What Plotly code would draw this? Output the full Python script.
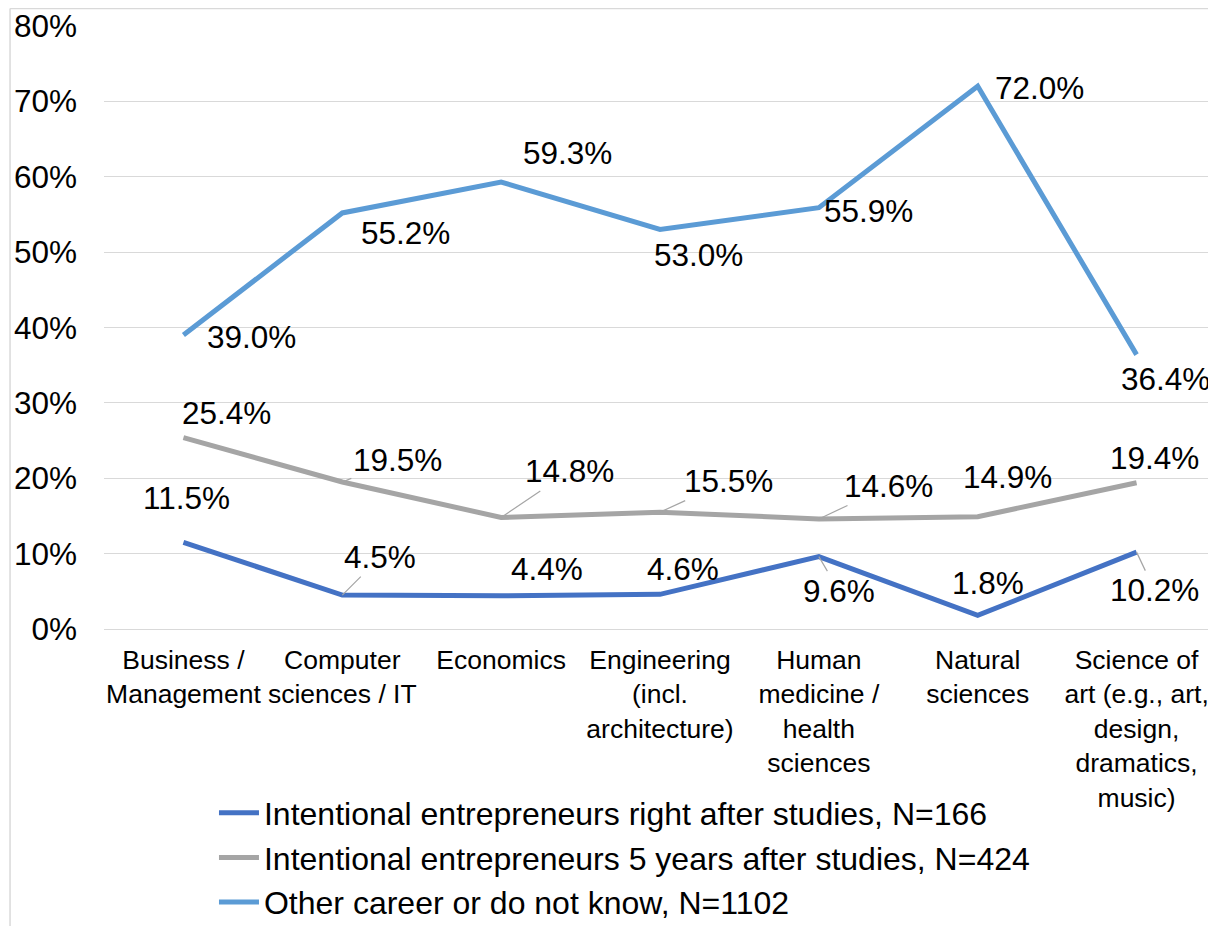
import plotly.graph_objects as go

categories = ["Business /<br>Management", "Computer<br>sciences / IT", "Economics",
              "Engineering<br>(incl.<br>architecture)", "Human<br>medicine /<br>health<br>sciences",
              "Natural<br>sciences", "Science of<br>art (e.g., art,<br>design,<br>dramatics,<br>music)"]
right_after = [11.5, 4.5, 4.4, 4.6, 9.6, 1.8, 10.2]
five_years = [25.4, 19.5, 14.8, 15.5, 14.6, 14.9, 19.4]
other = [39.0, 55.2, 59.3, 53.0, 55.9, 72.0, 36.4]
names = ["Intentional entrepreneurs right after studies, N=166",
         "Intentional entrepreneurs 5 years after studies, N=424",
         "Other career or do not know, N=1102"]
colors = ["#4472C4", "#A5A5A5", "#5B9BD5"]

# label offsets (px) and whether a leader line is drawn
offsets = [
    [(3, -44, 0), (38, -38, 1), (46, -27, 0), (23, -25, 0), (20, 34, 1), (10, -32, 0), (18, 38, 1)],
    [(43, -25, 0), (55, -22, 1), (68, -46, 1), (68, -31, 1), (70, -33, 1), (30, -40, 0), (18, -25, 0)],
    [(68, 2, 0), (63, 20, 0), (66, -29, 0), (38, 25, 0), (50, 3, 0), (62, 2, 0), (29, 24, 0)],
]

fig = go.Figure()
annotations = []
for i, vals in enumerate([right_after, five_years, other]):
    fig.add_trace(go.Scatter(x=categories, y=vals, mode="lines", name=names[i],
                             line=dict(color=colors[i], width=5), legendgroup=str(i)))
    for c, v, (ax, ay, lead) in zip(categories, vals, offsets[i]):
        annotations.append(dict(
            x=c, y=v, text=f"{v:.1f}%", showarrow=True, ax=ax, ay=ay,
            arrowhead=0, arrowwidth=1.2,
            arrowcolor="#A5A5A5" if lead else "rgba(0,0,0,0)",
            font=dict(size=31.5, color="#000000")))

fig.update_layout(
    width=1216, height=926,
    margin=dict(l=96, r=8, t=18, b=305, autoexpand=False),
    plot_bgcolor="white", paper_bgcolor="white",
    font=dict(family="Liberation Sans, Arial, sans-serif", color="#000000"),
    annotations=annotations,
    legend=dict(x=0.0989, y=-0.2595, xanchor="left", yanchor="top",
                font=dict(size=32), tracegroupgap=0, itemwidth=40),
    shapes=[dict(type="line", xref="paper", yref="paper", x0=-0.0845, x1=-0.0845,
                 y0=-0.5, y1=1.029, line=dict(color="#D9D9D9", width=1.5)),
            dict(type="line", xref="paper", yref="paper", x0=-0.0845, x1=1.02,
                 y0=1.029, y1=1.029, line=dict(color="#D9D9D9", width=1.5))],
)
fig.update_yaxes(range=[0, 80], dtick=10, ticksuffix="%", showgrid=True,
                 gridcolor="#D9D9D9", gridwidth=1, zeroline=False,
                 tickfont=dict(size=31.5), ticklabelstandoff=26, showline=False)
fig.update_xaxes(range=[-0.5, 6.5], showgrid=False, showline=True, linecolor="#D9D9D9",
                 linewidth=1, tickfont=dict(size=26.5), ticks="", ticklabelstandoff=7)

fig.write_html("out.html")
